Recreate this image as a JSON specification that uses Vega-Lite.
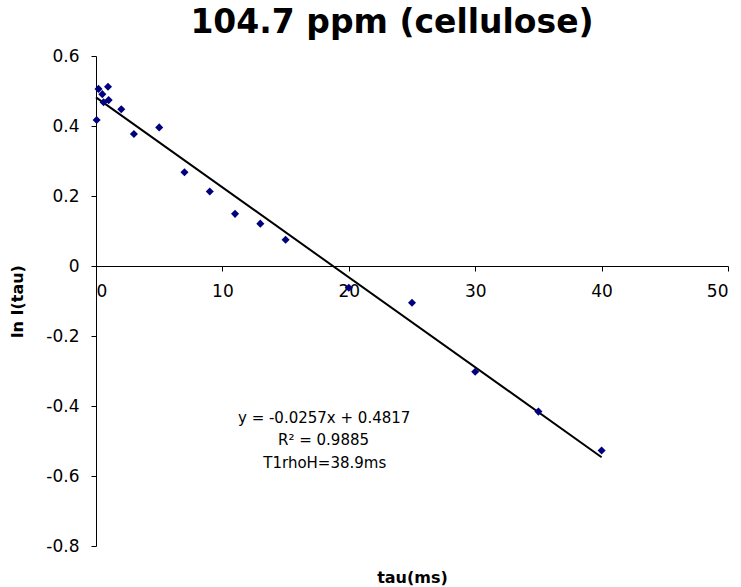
{
  "$schema": "https://vega.github.io/schema/vega-lite/v6.json",
  "autosize": {"type": "none"},
  "padding": {"left": 96, "top": 56, "right": 13, "bottom": 41},
  "width": 632,
  "height": 490,
  "background": "white",
  "title": {
    "text": "104.7 ppm (cellulose)",
    "font": "DejaVu Sans",
    "fontSize": 33,
    "fontWeight": "bold",
    "color": "black",
    "anchor": "middle",
    "dx": -20,
    "offset": 7
  },
  "config": {
    "view": {"stroke": null},
    "axis": {
      "labelFont": "DejaVu Sans",
      "labelFontSize": 17,
      "labelColor": "black",
      "titleFont": "DejaVu Sans",
      "titleFontSize": 16,
      "titleFontWeight": "bold",
      "titleColor": "black",
      "domainColor": "black",
      "tickColor": "black",
      "tickSize": 5,
      "grid": false
    }
  },
  "datasets": {
    "pts": [
      {"tau": 0.05, "lnI": 0.417},
      {"tau": 0.2, "lnI": 0.506},
      {"tau": 0.5, "lnI": 0.491},
      {"tau": 0.6, "lnI": 0.468},
      {"tau": 0.95, "lnI": 0.512},
      {"tau": 1.0, "lnI": 0.474},
      {"tau": 2.0, "lnI": 0.448},
      {"tau": 3.0, "lnI": 0.377},
      {"tau": 5.0, "lnI": 0.396},
      {"tau": 7.0, "lnI": 0.268},
      {"tau": 9.0, "lnI": 0.213},
      {"tau": 11.0, "lnI": 0.149},
      {"tau": 13.0, "lnI": 0.121},
      {"tau": 15.0, "lnI": 0.075},
      {"tau": 20.0, "lnI": -0.062},
      {"tau": 25.0, "lnI": -0.105},
      {"tau": 30.0, "lnI": -0.302},
      {"tau": 35.0, "lnI": -0.416},
      {"tau": 40.0, "lnI": -0.527}
    ],
    "fit": [
      {"tau": 0, "lnI": 0.4817},
      {"tau": 40, "lnI": -0.5463}
    ],
    "annot": [
      {"tau": 18.05, "lnI": -0.434, "label": "y = -0.0257x + 0.4817"},
      {"tau": 18.0, "lnI": -0.497, "label": "R² = 0.9885"},
      {"tau": 18.1, "lnI": -0.563, "label": "T1rhoH=38.9ms"}
    ]
  },
  "layer": [
    {
      "data": {"name": "fit"},
      "mark": {"type": "line", "color": "black", "strokeWidth": 2},
      "encoding": {
        "x": {
          "field": "tau", "type": "quantitative",
          "scale": {"domain": [0, 50], "nice": false},
          "axis": {
            "title": "tau(ms)",
            "values": [0, 10, 20, 30, 40, 50],
            "offset": -280,
            "labelPadding": 12,
            "titlePadding": 270
          }
        },
        "y": {
          "field": "lnI", "type": "quantitative",
          "scale": {"domain": [-0.8, 0.6], "nice": false, "zero": false},
          "axis": {
            "title": "ln I(tau)",
            "values": [-0.8, -0.6, -0.4, -0.2, 0, 0.2, 0.4, 0.6],
            "labelExpr": "datum.value == 0 ? '0' : toString(datum.value)",
            "labelPadding": 12,
            "titlePadding": 20
          }
        }
      }
    },
    {
      "data": {"name": "pts"},
      "mark": {"type": "point", "shape": "diamond", "filled": true, "color": "#000080", "opacity": 1, "size": 65},
      "encoding": {
        "x": {"field": "tau", "type": "quantitative"},
        "y": {"field": "lnI", "type": "quantitative"}
      }
    },
    {
      "data": {"name": "annot"},
      "mark": {"type": "text", "font": "DejaVu Sans", "fontSize": 15, "color": "black", "align": "center", "baseline": "middle"},
      "encoding": {
        "x": {"field": "tau", "type": "quantitative"},
        "y": {"field": "lnI", "type": "quantitative"},
        "text": {"field": "label"}
      }
    }
  ]
}
